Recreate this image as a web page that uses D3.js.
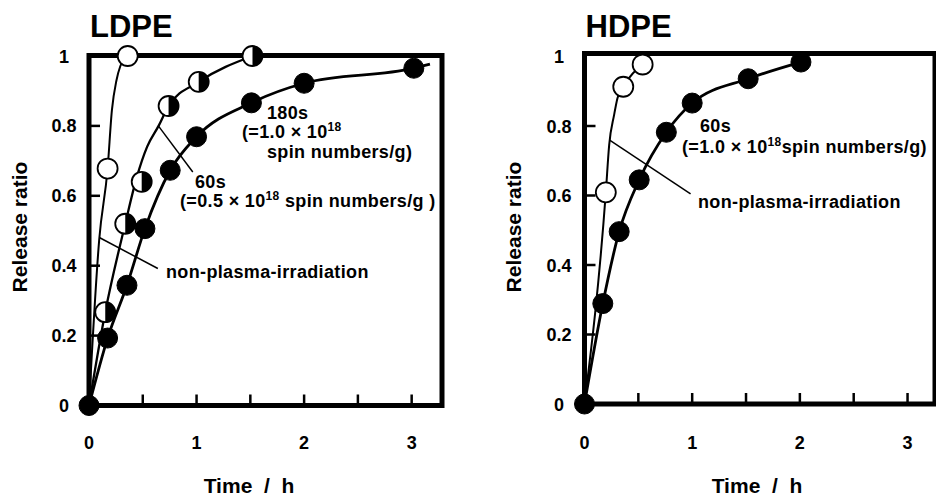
<!DOCTYPE html>
<html><head><meta charset="utf-8">
<script src="https://cdn.jsdelivr.net/npm/d3@7"></script>
<style>
body{margin:0;background:#fff}
text{font-family:"Liberation Sans",Arial,Helvetica,sans-serif;font-weight:bold;fill:#000}
</style>
</head><body>
<svg id="chart" width="936" height="496" xmlns="http://www.w3.org/2000/svg"></svg>
<script>
// ---------- data ----------
const panelTitles = ["LDPE", "HDPE"];
const xTickValues = [0, 1, 2, 3];
const xTickLabels = ["0", "1", "2", "3"];
const xMinorTicks = [0.5, 1, 1.5, 2, 2.5, 3];
const yTickValues = [0, 0.2, 0.4, 0.6, 0.8, 1];
const yTickLabels = ["0", "0.2", "0.4", "0.6", "0.8", "1"];
const yInnerTicks = [0.2, 0.4, 0.6, 0.8];

// LDPE – non-plasma-irradiation (open circles)
const ldpeNonTime  = [0.173, 0.36];
const ldpeNonRatio = [0.678, 1.0];
const ldpeNonFitTime  = [0, 0.095, 0.173, 0.213, 0.255, 0.29, 0.36];
const ldpeNonFitRatio = [0, 0.475, 0.678, 0.845, 0.93, 0.97, 1.0];
// LDPE – 60 s (half-filled circles)
const ldpe60Time  = [0.151, 0.337, 0.49, 0.74, 1.02, 1.52];
const ldpe60Ratio = [0.267, 0.52, 0.64, 0.857, 0.926, 1.0];
const ldpe60FitTime  = [0, 0.151, 0.337, 0.445, 0.54, 0.647, 0.74, 1.02, 1.52];
const ldpe60FitRatio = [0, 0.267, 0.52, 0.654, 0.74, 0.80, 0.857, 0.926, 1.0];
// LDPE – 180 s (filled circles)
const ldpe180Time  = [0, 0.173, 0.353, 0.52, 0.755, 1.0, 1.51, 2.0, 3.02];
const ldpe180Ratio = [0, 0.193, 0.344, 0.506, 0.673, 0.769, 0.866, 0.922, 0.965];
const ldpe180FitTime  = [0, 0.173, 0.353, 0.52, 0.755, 1.0, 1.51, 2.0, 3.02, 3.17];
const ldpe180FitRatio = [0, 0.193, 0.344, 0.506, 0.673, 0.769, 0.866, 0.922, 0.965, 0.977];

// HDPE – non-plasma-irradiation (open circles)
const hdpeNonTime  = [0.198, 0.36, 0.54];
const hdpeNonRatio = [0.609, 0.913, 0.977];
const hdpeNonFitTime  = [0, 0.198, 0.229, 0.275, 0.306, 0.36, 0.54];
const hdpeNonFitRatio = [0, 0.609, 0.745, 0.832, 0.88, 0.913, 0.977];
// HDPE – 60 s (filled circles)
const hdpe60Time  = [0, 0.17, 0.322, 0.508, 0.76, 1.0, 1.52, 2.01];
const hdpe60Ratio = [0, 0.289, 0.496, 0.645, 0.782, 0.866, 0.936, 0.984];

const zip = (a, b) => a.map((v, i) => [v, b[i]]);

const svg = d3.select("#chart");

function drawPanel(p) {
  const x = d3.scaleLinear().domain([0, p.xMax]).range([p.left, p.right]);
  const y = d3.scaleLinear().domain([0, 1]).range([p.bottom, p.y1]);
  const g = svg.append("g");

  // title
  g.append("text").attr("x", p.left + 1).attr("y", 37)
    .attr("font-size", 31).text(p.title);

  // curves
  const line = d3.line().x(d => x(d[0])).y(d => y(d[1])).curve(d3.curveMonotoneX);
  p.curves.forEach(c => {
    g.append("path").attr("d", line(c.pts)).attr("fill", "none")
      .attr("stroke", "#000").attr("stroke-width", c.w);
  });

  // callout lines
  p.callouts.forEach(c => {
    g.append("line").attr("x1", x(c[0])).attr("y1", y(c[1]))
      .attr("x2", x(c[2])).attr("y2", y(c[3]))
      .attr("stroke", "#000").attr("stroke-width", 1.5);
  });

  // frame
  g.append("rect").attr("x", p.left).attr("y", p.top)
    .attr("width", p.right - p.left).attr("height", p.bottom - p.top)
    .attr("fill", "none").attr("stroke", "#000").attr("stroke-width", 5);

  // inner ticks
  yInnerTicks.forEach(v => {
    g.append("line").attr("x1", p.left).attr("x2", p.left + 11)
      .attr("y1", y(v)).attr("y2", y(v)).attr("stroke", "#000").attr("stroke-width", 2.5);
  });
  xMinorTicks.forEach(v => {
    g.append("line").attr("x1", x(v)).attr("x2", x(v))
      .attr("y1", p.bottom).attr("y2", p.bottom - 11).attr("stroke", "#000").attr("stroke-width", 2.5);
  });

  // tick labels
  yTickValues.forEach((v, i) => {
    g.append("text").attr("x", p.yLabX).attr("y", y(v) + 6.5)
      .attr("text-anchor", "middle").attr("font-size", 18).text(yTickLabels[i]);
  });
  xTickValues.forEach((v, i) => {
    g.append("text").attr("x", x(v)).attr("y", 448.5)
      .attr("text-anchor", "middle").attr("font-size", 18).text(xTickLabels[i]);
  });

  // axis titles
  g.append("text").attr("transform", `translate(${p.yTitleX},227) rotate(-90)`)
    .attr("text-anchor", "middle").attr("font-size", 21).text("Release ratio");
  g.append("text").attr("x", p.xTitleX).attr("y", 493)
    .attr("text-anchor", "middle").attr("font-size", 21)
    .style("white-space", "pre").text("Time  /  h");

  // markers
  const r = 10;
  p.markers.forEach(m => {
    m.pts.forEach(d => {
      const cx = x(d[0]), cy = y(d[1]);
      if (m.type === "open") {
        g.append("circle").attr("cx", cx).attr("cy", cy).attr("r", r)
          .attr("fill", "#fff").attr("stroke", "#000").attr("stroke-width", 1.8);
      } else if (m.type === "half") {
        g.append("circle").attr("cx", cx).attr("cy", cy).attr("r", r)
          .attr("fill", "#fff").attr("stroke", "#000").attr("stroke-width", 1.8);
        g.append("path").attr("transform", `translate(${cx},${cy})`)
          .attr("d", `M0,${-r} A${r},${r} 0 0,1 0,${r} Z`).attr("fill", "#000");
      } else {
        g.append("circle").attr("cx", cx).attr("cy", cy).attr("r", r)
          .attr("fill", "#000").attr("stroke", "#000").attr("stroke-width", 1);
      }
    });
  });

  // annotation texts
  p.texts.forEach(t => {
    const tx = g.append("text").attr("x", t.x).attr("y", t.y)
      .attr("font-size", 18).attr("letter-spacing", 0.35);
    let shift = 0;
    t.parts.forEach(pt => {
      const span = tx.append("tspan").style("white-space", "pre").text(pt.s);
      if (pt.sup) {
        span.attr("font-size", 12).attr("dy", -7);
        shift = 7;
      } else if (shift) {
        span.attr("dy", shift);
        shift = 0;
      }
    });
  });
}

drawPanel({
  title: panelTitles[0],
  left: 89, right: 442, top: 55.5, bottom: 405.5, y1: 56, xMax: 3.282,
  yLabX: 64, yTitleX: 27, xTitleX: 249,
  curves: [
    {pts: zip(ldpeNonFitTime, ldpeNonFitRatio), w: 2},
    {pts: zip(ldpe60FitTime, ldpe60FitRatio), w: 2.3},
    {pts: zip(ldpe180FitTime, ldpe180FitRatio), w: 2.8}
  ],
  callouts: [
    [0.100, 0.48, 0.64, 0.392],
    [0.645, 0.80, 0.965, 0.668]
  ],
  markers: [
    {type: "open", pts: zip(ldpeNonTime, ldpeNonRatio)},
    {type: "half", pts: zip(ldpe60Time, ldpe60Ratio)},
    {type: "filled", pts: zip(ldpe180Time, ldpe180Ratio)}
  ],
  texts: [
    {x: 267, y: 119, parts: [{s: "180s"}]},
    {x: 242, y: 138, parts: [{s: "(=1.0 × 10"}, {s: "18", sup: true}]},
    {x: 267, y: 157.5, parts: [{s: "spin numbers/g)"}]},
    {x: 195, y: 188, parts: [{s: "60s"}]},
    {x: 180, y: 207, parts: [{s: "(=0.5 × 10"}, {s: "18", sup: true}, {s: " spin numbers/g )"}]},
    {x: 166, y: 278, parts: [{s: "non-plasma-irradiation"}]}
  ]
});

drawPanel({
  title: panelTitles[1],
  left: 584.5, right: 935, top: 53.5, bottom: 404, y1: 56.5, xMax: 3.255,
  yLabX: 559, yTitleX: 521, xTitleX: 757,
  curves: [
    {pts: zip(hdpeNonFitTime, hdpeNonFitRatio), w: 2},
    {pts: zip(hdpe60Time, hdpe60Ratio), w: 2.8}
  ],
  callouts: [
    [0.23, 0.76, 0.985, 0.605]
  ],
  markers: [
    {type: "open", pts: zip(hdpeNonTime, hdpeNonRatio)},
    {type: "filled", pts: zip(hdpe60Time, hdpe60Ratio)}
  ],
  texts: [
    {x: 700, y: 132, parts: [{s: "60s"}]},
    {x: 682, y: 153, parts: [{s: "(=1.0 × 10"}, {s: "18", sup: true}, {s: "spin numbers/g)"}]},
    {x: 698, y: 208, parts: [{s: "non-plasma-irradiation"}]}
  ]
});
</script>
</body></html>
